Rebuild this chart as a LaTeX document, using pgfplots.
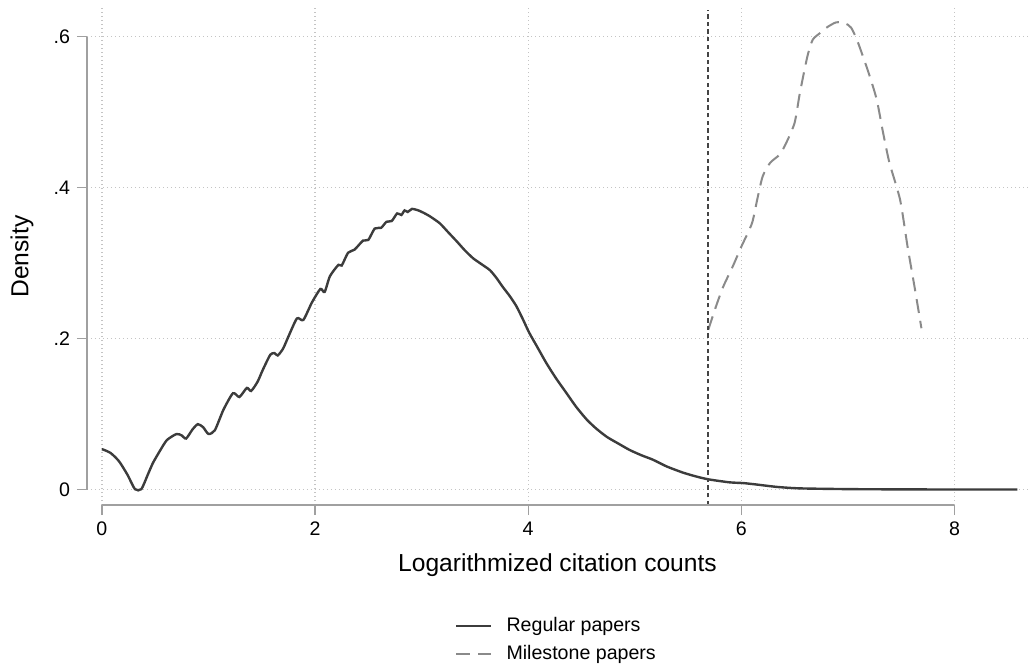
\documentclass[border=0pt]{standalone}
\usepackage{fontspec}
\setmainfont{Liberation Sans}
\usepackage{pgfplots}
\pgfplotsset{compat=1.18}

\definecolor{regline}{HTML}{3C3C3C}
\definecolor{mileline}{HTML}{8A8A8A}
\definecolor{vline}{HTML}{444444}
\definecolor{axgray}{HTML}{A0A0A0}
\definecolor{gridgray}{HTML}{C4C4C4}

\begin{document}
\begin{tikzpicture}
\useasboundingbox (-43.5bp,-80bp) rectangle (470.5bp,252.5bp);
\begin{axis}[
    scale only axis,
    width=470.5bp,
    height=248.5bp,
    xmin=-0.14, xmax=8.69,
    ymin=-0.02, ymax=0.638,
    clip=false,
    axis line style={draw=none},
    xtick={0,2,4,6,8},
    ytick={0,0.2,0.4,0.6},
    yticklabels={0,.2,.4,.6},
    xtick pos=lower, ytick pos=left,
    tick align=outside,
    major tick length=5bp,
    tick style={axgray, line width=0.6bp},
    grid=major,
    major grid style={gridgray, line width=0.6bp, dash pattern=on 0.6bp off 1.4bp},
    /pgf/number format/assume math mode=true,
    tick label style={font=\fontsize{9.8bp}{12bp}\selectfont, black},
    xlabel={Logarithmized citation counts},
    ylabel={Density},
    label style={font=\fontsize{12.3bp}{15bp}\selectfont},
    xlabel style={at={(axis description cs:0.5,-0.12)}, anchor=center},
    ylabel style={at={(axis description cs:-0.069,0.5)}, anchor=center},
    legend style={at={(axis description cs:0.5,-0.213)}, anchor=north,
        draw=none, font=\fontsize{9.8bp}{12bp}\selectfont,
        row sep=1.5bp, inner sep=1bp,
        /tikz/every odd column/.append style={column sep=5bp}},
    legend cell align=left,
    legend image code/.code={\draw[#1] (0bp,0bp) -- (17.5bp,0bp);},
]
\addplot[regline, line width=1.2bp, smooth, tension=0.4] coordinates {
(0,0.054) (0.08,0.049) (0.16,0.038) (0.24,0.020) (0.31,0.001) (0.37,0.001)
(0.43,0.020) (0.48,0.036) (0.55,0.053) (0.61,0.066) (0.70,0.074) (0.75,0.072)
(0.79,0.068) (0.85,0.080) (0.90,0.087) (0.95,0.083) (1.00,0.074) (1.06,0.079)
(1.14,0.106) (1.23,0.128) (1.29,0.123) (1.36,0.135) (1.40,0.131) (1.46,0.143)
(1.51,0.159) (1.58,0.179) (1.62,0.181) (1.65,0.178) (1.70,0.187) (1.75,0.203)
(1.83,0.227) (1.89,0.225) (1.97,0.248) (2.05,0.266) (2.09,0.262) (2.14,0.283)
(2.22,0.298) (2.25,0.297) (2.31,0.314) (2.37,0.318) (2.45,0.330) (2.50,0.331)
(2.56,0.346) (2.62,0.347) (2.67,0.355) (2.72,0.356) (2.77,0.366) (2.81,0.364)
(2.84,0.370) (2.87,0.368) (2.91,0.372) (2.97,0.370) (3.03,0.366) (3.08,0.362)
(3.17,0.353) (3.25,0.341) (3.33,0.329) (3.40,0.318) (3.48,0.307) (3.56,0.299)
(3.64,0.291) (3.70,0.281) (3.76,0.269) (3.83,0.256) (3.89,0.243) (3.95,0.226)
(4.01,0.208) (4.09,0.188) (4.17,0.168) (4.26,0.148) (4.36,0.128) (4.45,0.110)
(4.55,0.093) (4.64,0.081) (4.74,0.070) (4.85,0.061) (4.95,0.053) (5.06,0.046)
(5.17,0.040) (5.30,0.031) (5.45,0.023) (5.57,0.018) (5.69,0.014) (5.89,0.010)
(6.02,0.009) (6.15,0.007) (6.33,0.004) (6.55,0.002) (7.02,0.001) (7.50,0.0007)
(8.00,0.0005) (8.59,0.0005)
};
\addlegendentry{Regular papers}
\addplot[mileline, line width=1bp, dash pattern=on 7bp off 4bp, smooth, tension=0.4] coordinates {
(5.69,0.212) (5.76,0.242) (5.83,0.269) (5.92,0.296) (6.00,0.322) (6.10,0.353)
(6.15,0.385) (6.20,0.415) (6.27,0.433) (6.36,0.444) (6.42,0.459) (6.50,0.486)
(6.55,0.526) (6.62,0.574) (6.67,0.596) (6.74,0.605) (6.81,0.613) (6.89,0.619)
(6.97,0.618) (7.03,0.612) (7.09,0.594) (7.19,0.554) (7.27,0.517) (7.33,0.473)
(7.39,0.433) (7.49,0.384) (7.56,0.322) (7.63,0.265) (7.69,0.214)
};
\addlegendentry{Milestone papers}
\addplot[vline, line width=0.8bp, dash pattern=on 2.2bp off 1.6bp, forget plot] coordinates {
(5.69,-0.02) (5.69,0.636)
};
\draw[axgray, line width=0.6bp] (axis cs:-0.14,0) -- (axis cs:-0.14,0.6);
\draw[axgray, line width=0.6bp] (axis cs:0,-0.02) -- (axis cs:8,-0.02);
\end{axis}
\end{tikzpicture}
\end{document}
